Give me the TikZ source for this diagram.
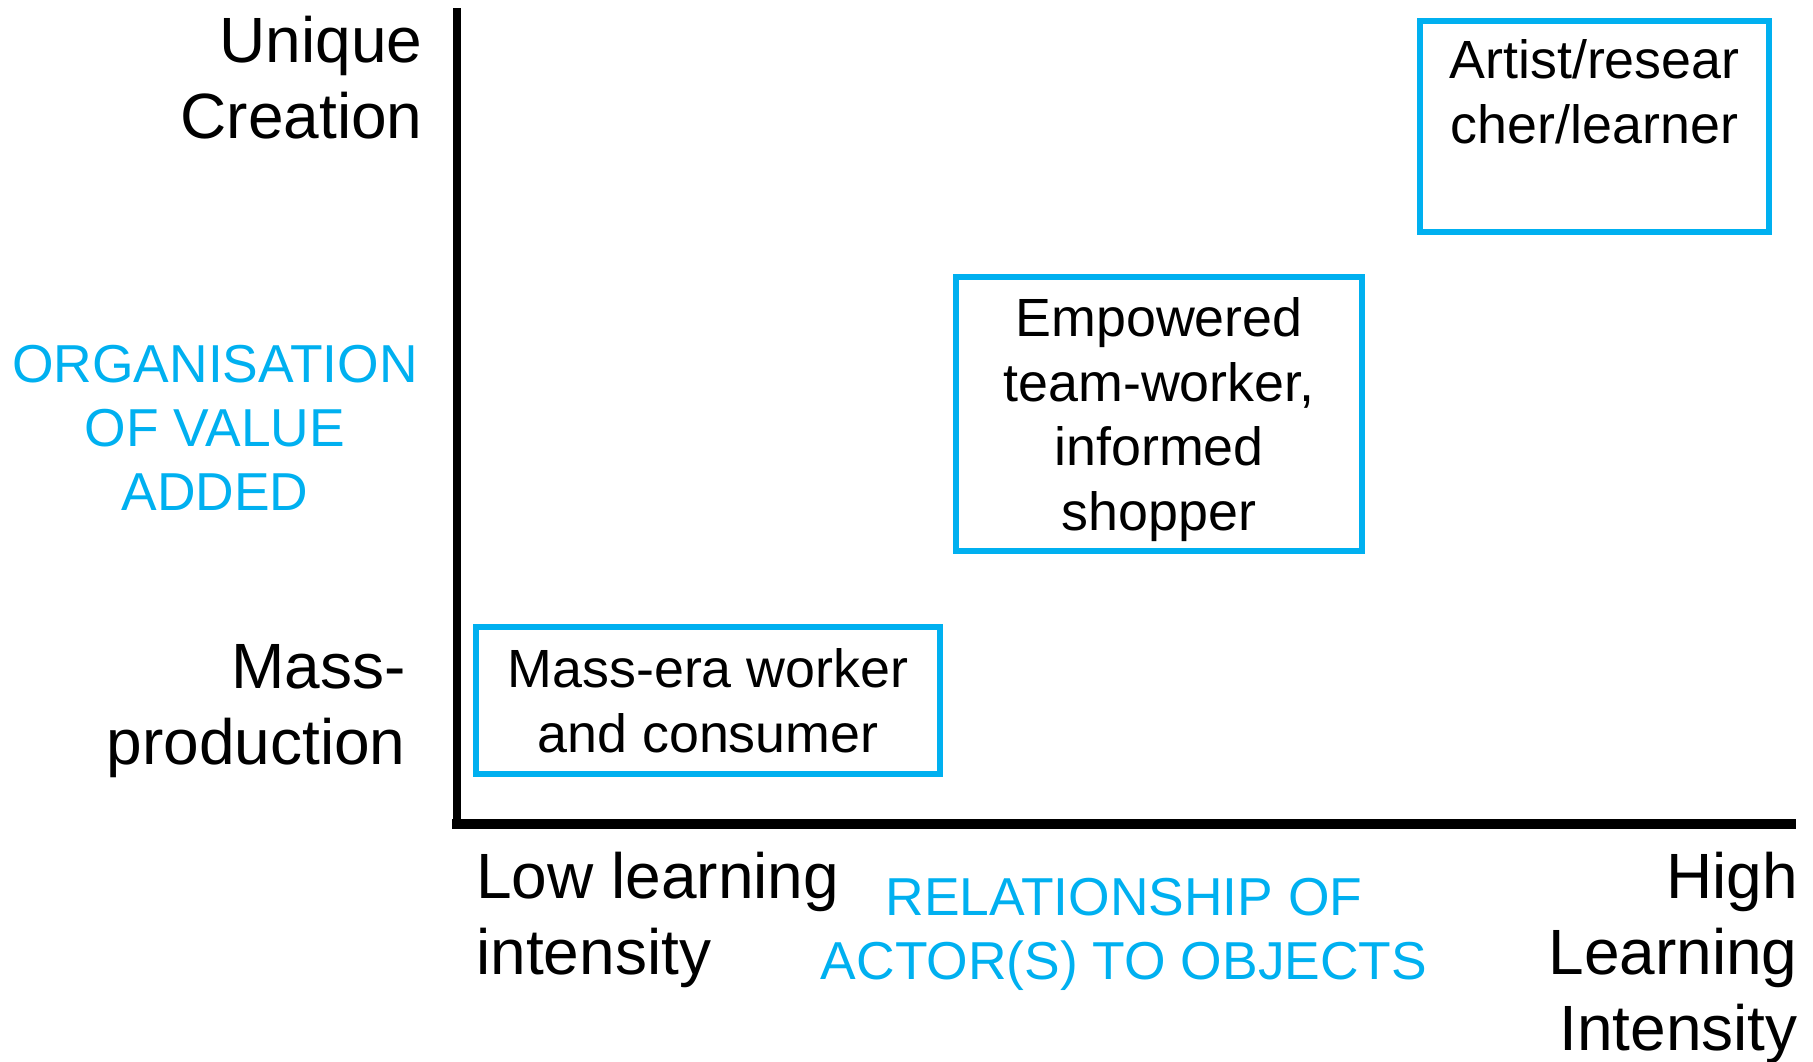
\documentclass[tikz,border=0pt]{standalone}
\usepackage{fontspec}
\setmainfont{Liberation Sans}
\usepackage{xcolor}
\usepackage{tikz}
\definecolor{ink}{HTML}{000000}
\definecolor{sky}{HTML}{00B0F0}
\tikzset{
  axis/.style={draw=ink, line width=4pt},
  rolebox/.style={draw=sky, line width=3pt, inner sep=0pt, align=center, text=ink, font=\fontsize{26.9}{32.4}\selectfont},
  axlabel/.style={text=ink, inner sep=0pt, font=\fontsize{32}{38}\selectfont},
  dimlabel/.style={text=sky, inner sep=0pt, align=center, font=\fontsize{26.7}{32}\selectfont}
}
\begin{document}
\begin{tikzpicture}[x=0.5pt,y=-0.5pt]
  \useasboundingbox (0,0) rectangle (1813,1061);
  \coordinate (top) at (457,8);
  \coordinate (O) at (457,824);
  \coordinate (end) at (1791,824);

  \draw[axis] (top)--(O);
  \draw[axis, line width=5pt, line cap=rect] (O)--(end);

  \node[rolebox, minimum width=232pt, minimum height=73.5pt] (massera) at (708,700.5) {Mass-era worker\\and consumer};
  \node[rolebox, minimum width=203pt, minimum height=137pt, text depth=0pt] (teamwork) at (1159,414) {Empowered\\team-worker,\\informed\\shopper};
  \node[rolebox, minimum width=174.5pt, text height=61.2pt, text depth=44.3pt, anchor=north] (artist) at (1594.5,18) {Artist/resear\\cher/learner};

  \node[axlabel, align=right, anchor=north east] (unique) at (423,16) {Unique\\Creation};
  \node[axlabel, align=right, anchor=north east] (massprod) at (406,644) {Mass-\\production};
  \node[axlabel, align=left, anchor=north west] (lowlearn) at (476,852) {Low learning\\intensity};
  \node[axlabel, align=right, anchor=north east] (highlearn) at (1798,852) {High\\Learning\\Intensity};

  \node[dimlabel, anchor=north] (valueadded) at (215,345) {ORGANISATION\\OF VALUE\\ADDED};
  \node[dimlabel, anchor=north] (actors) at (1124,878) {RELATIONSHIP OF\\ACTOR(S) TO OBJECTS};
\end{tikzpicture}
\end{document}
